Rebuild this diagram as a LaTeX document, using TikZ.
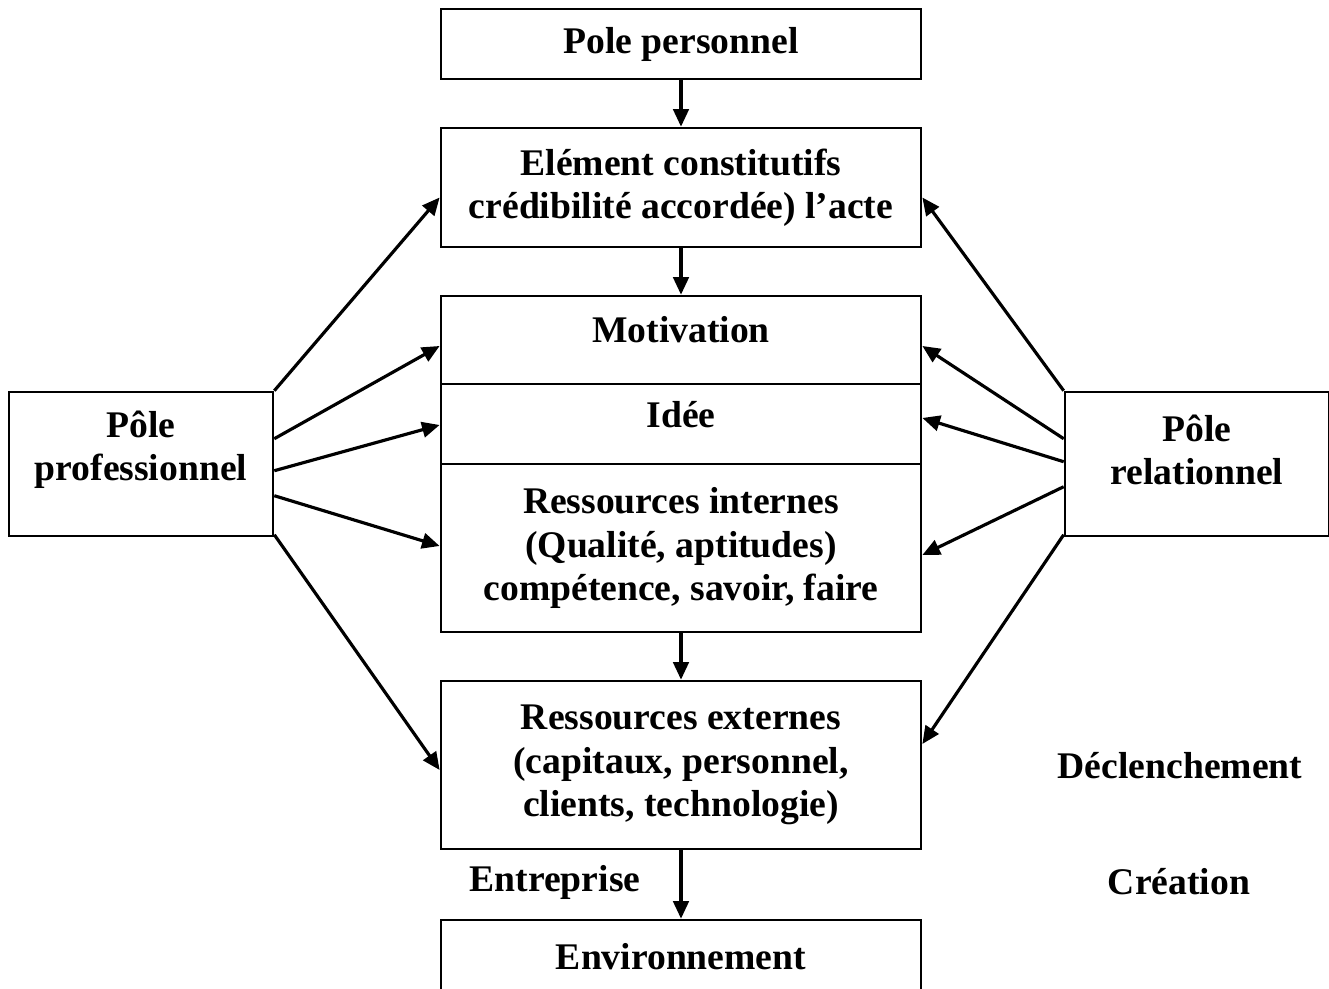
\documentclass[tikz,border=0pt]{standalone}
\usepackage{fontspec}
\setmainfont{Liberation Serif}
\usetikzlibrary{arrows.meta,calc}

\begin{document}
\begin{tikzpicture}[x=0.01cm,y=-0.01cm,
		font=\fontsize{10.7}{12.3}\selectfont\bfseries,
		bloc/.style={draw,line width=0.7pt,minimum width=4.8cm,inner sep=0pt,align=center},
		fleche/.style={-{Triangle[length=5pt,width=4.4pt]},line width=0.9pt}]
	\useasboundingbox (0,0) rectangle (1329,989);

	% colonne centrale
	\node[bloc,minimum height=0.7cm] (perso) at (681,44) {Pole personnel};
	\node[bloc,minimum height=1.19cm] (elem) at (681,187.5) {El\'ement constitutifs\\cr\'edibilit\'e accord\'ee) l'acte};
	\node[bloc,minimum height=0.88cm] (motiv) at (681,340) {};
	\node[bloc,minimum height=0.8cm] (idee) at (681,424) {};
	\node[bloc,minimum height=1.68cm] (intern) at (681,548) {Ressources internes\\(Qualit\'e, aptitudes)\\comp\'etence, savoir, faire};
	\node[bloc,minimum height=1.68cm] (extern) at (681,765) {Ressources externes\\(capitaux, personnel,\\clients, technologie)};
	\node[bloc,minimum height=0.74cm] (envir) at (681,957) {Environnement};
	\node (motivT) at (681,330) {Motivation};
	\node (ideeT) at (681,415) {Id\'ee};

	% les deux poles
	\node[bloc,minimum width=2.64cm,minimum height=1.44cm] (prof) at (141,464) {};
	\node[bloc,minimum width=2.64cm,minimum height=1.44cm] (relat) at (1197,464) {};
	\node[align=center] (profT) at (141,450) {P\^ole\\professionnel};
	\node[align=center] (relatT) at (1197,450) {P\^ole\\relationnel};

	\draw[fleche] (perso) -- (elem);
	\draw[fleche] (elem) -- (motiv);
	\draw[fleche] (intern) -- (extern);
	\draw[fleche] (extern) -- (envir);

	\foreach \a/\b/\c in {0/elem/10, 48/motiv/6, 80/idee/1, 105/intern/-2, 144/extern/5}
		\draw[fleche] ($(prof.north east)+(0,\a)$) -- ($(\b.west)+(0,\c)$);
	\foreach \a/\b/\c in {0/elem/10, 48/motiv/6, 71/idee/-6, 96/intern/7, 144/extern/-21}
		\draw[fleche] ($(relat.north west)+(0,\a)$) -- ($(\b.east)+(0,\c)$);

	\node (declen) at (1180,766) {D\'eclenchement};
	\node (creat) at (1179,882) {Cr\'eation};
	\node (entre) at (555,882) {Entreprise};
\end{tikzpicture}
\end{document}
